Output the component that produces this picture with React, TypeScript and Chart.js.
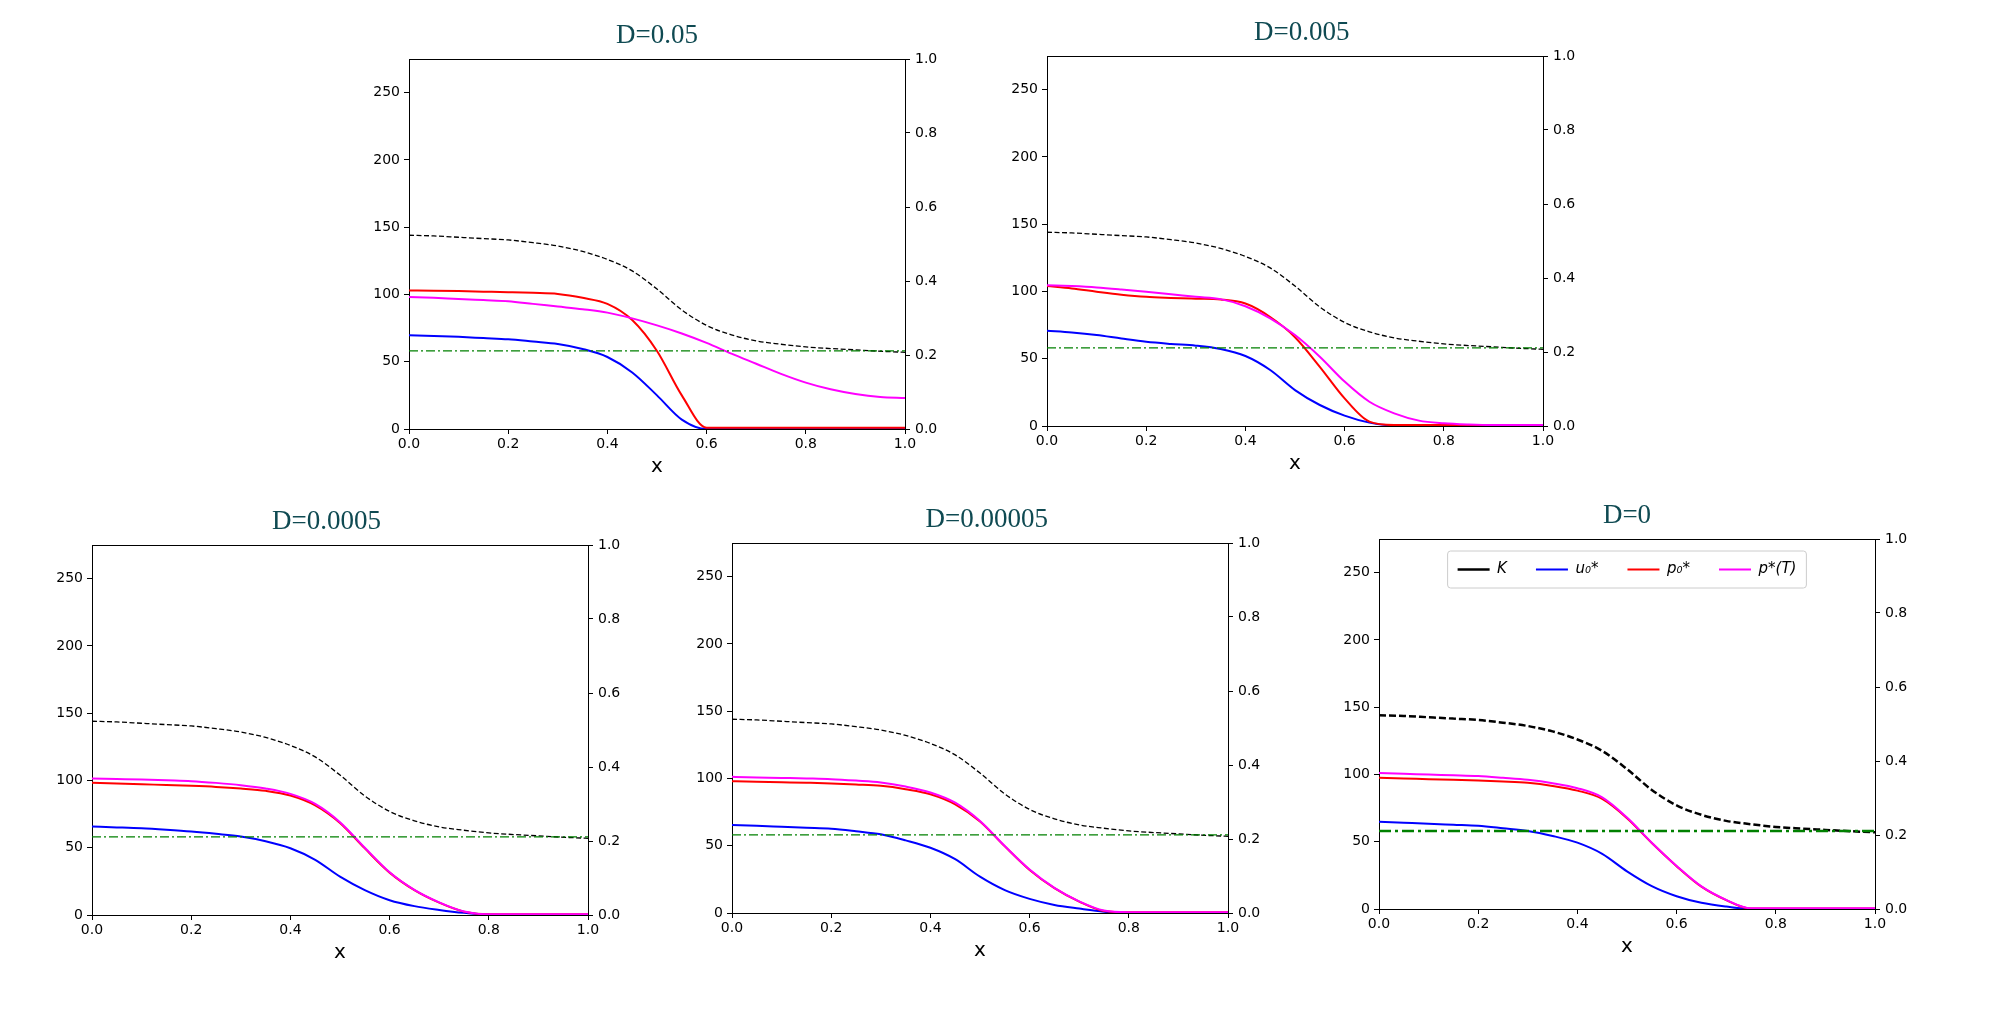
import { useEffect, useRef } from "react";
import { Chart, registerables, type Plugin } from "chart.js";

Chart.register(...registerables);

// sample positions along x (shared by every curve)
const X = [0, 0.05, 0.1, 0.15, 0.2, 0.25, 0.3, 0.35, 0.4, 0.45, 0.5, 0.55, 0.6, 0.65, 0.7, 0.75, 0.8, 0.85, 0.9, 0.95, 1];

// K is the same in every panel
const K = [144, 143.5, 142.5, 141.5, 140.5, 138.5, 136, 132, 126, 117.5, 104, 88.5, 77, 70, 65.5, 63, 61, 59.8, 58.8, 57.8, 57];

const GREEN_LEVEL = 58;

const U1 = [69.7, 69.2, 68.5, 67.6, 66.7, 65, 63.2, 59.5, 53.5, 42, 25, 7, 0, 0, 0, 0, 0, 0, 0, 0, 0];
const P01 = [103, 102.8, 102.5, 102.1, 101.7, 101.2, 100.4, 97.5, 93, 81, 58, 25, 1, 1, 1, 1, 1, 1, 1, 1, 1];
const PT1 = [98.2, 97.5, 96.6, 95.8, 95, 93, 91, 89, 86.5, 82.2, 77, 71, 64, 56, 48.5, 41, 34.5, 29.5, 26, 23.8, 23];

const U2 = [70.8, 69.5, 67.6, 65, 62.6, 61, 59.7, 57.2, 52, 41.6, 26.7, 15.6, 7.7, 2.5, 0.3, 0, 0, 0, 0, 0, 0];
const P02 = [104, 102.2, 99.8, 97.6, 96, 95.2, 94.6, 94, 91, 81, 66, 44, 20.5, 3.2, 0.7, 0.7, 0.7, 0.7, 0.7, 0.7, 0.7];
const PT2 = [104.7, 104, 103, 101.5, 99.8, 98, 96, 94.3, 89, 80, 67.6, 51.5, 33, 18, 9.4, 4, 2, 1.1, 0.7, 0.7, 0.7];

const U3 = [65.7, 65.1, 64.4, 63.3, 62, 60.3, 58.3, 54.8, 49.6, 41, 28.5, 18.5, 11, 6.6, 3.8, 1.6, 0.2, 0, 0, 0, 0];
const P03 = [98.3, 97.8, 97.2, 96.6, 96, 95.2, 94, 92.3, 88.8, 81.5, 68.4, 49.5, 31.5, 18.5, 9.2, 2.5, 0.5, 0.5, 0.5, 0.5, 0.5];
const PT3 = [101.5, 101.1, 100.7, 100.1, 99.5, 98.2, 96.5, 94, 90, 82.6, 69, 50, 31.8, 18.7, 9.4, 2.6, 0.5, 0.5, 0.5, 0.5, 0.5];

const U4 = [65.4, 64.8, 64.1, 63.4, 62.7, 60.8, 58.5, 54, 48.5, 40, 27, 17, 10.5, 6, 3.3, 1, 0, 0, 0, 0, 0];
const P04 = [98, 97.6, 97.2, 96.8, 96.3, 95.5, 94.5, 92, 88.3, 80.8, 68, 49.5, 32, 18.5, 8.5, 1.5, 0.5, 0.5, 0.5, 0.5, 0.5];
const PT4 = [101.2, 100.8, 100.4, 100, 99.5, 98.4, 97, 94, 89.6, 82, 68.4, 49.8, 32.3, 18.7, 8.7, 1.8, 0.5, 0.5, 0.5, 0.5, 0.5];

const U5 = [64.8, 64.1, 63.4, 62.6, 61.8, 60, 58, 54.3, 49.3, 41, 28, 17, 9.5, 4.6, 1.8, 0, 0, 0, 0, 0, 0];
const P05 = [97.5, 97, 96.5, 96, 95.5, 94.8, 93.8, 91.5, 88, 81.8, 67.5, 49, 31.8, 16.6, 6.6, 0.3, 0.3, 0.3, 0.3, 0.3, 0.3];
const PT5 = [101, 100.5, 99.9, 99.4, 98.8, 97.5, 96, 93.5, 89.8, 83, 68, 49.3, 32, 16.8, 6.8, 0.5, 0.5, 0.5, 0.5, 0.5, 0.5];

const LEFT_TICKS = [0, 50, 100, 150, 200, 250];
const RIGHT_TICKS = [0, 0.2, 0.4, 0.6, 0.8, 1.0];
const X_TICKS = [0, 0.2, 0.4, 0.6, 0.8, 1.0];

type PanelCfg = {
  title: string;
  left: number; // chart area left, px
  top: number; // chart area top, px
  u: number[];
  p0: number[];
  pT: number[];
  heavy: boolean;
  legend: boolean;
};

// titles are not quite centred in the original; padding spaces nudge them
const PANELS: PanelCfg[] = [
  { title: "D=0.05", left: 409, top: 59, u: U1, p0: P01, pT: PT1, heavy: false, legend: false },
  { title: "  D=0.005", left: 1047, top: 56, u: U2, p0: P02, pT: PT2, heavy: false, legend: false },
  { title: "D=0.0005    ", left: 92, top: 545, u: U3, p0: P03, pT: PT3, heavy: false, legend: false },
  { title: "  D=0.00005", left: 732, top: 543, u: U4, p0: P04, pT: PT4, heavy: false, legend: false },
  { title: "D=0", left: 1379, top: 539, u: U5, p0: P05, pT: PT5, heavy: true, legend: true },
];

const AREA_W = 496;
const AREA_H = 370;
const AXIS_W = 44;
const TITLE_H = 37;
const XAXIS_H = 52;
const LEGEND_LIFT = 6;

const pts = (ys: number[]) => X.map((x, i) => ({ x, y: ys[i] }));

// legend sits inside the plot as one row, with a light frame round it
const legendInside: Plugin<"line"> = {
  id: "legendInside",
  afterInit(chart) {
    const lg: any = chart.legend;
    if (lg) lg.isHorizontal = () => true;
  },
  afterLayout(chart) {
    const lg: any = chart.legend;
    if (!lg) return;
    lg.left = chart.chartArea.left;
    lg.right = chart.chartArea.right;
    lg.top -= LEGEND_LIFT;
    lg.bottom -= LEGEND_LIFT;
  },
  afterDraw(chart) {
    const lg: any = chart.legend;
    if (!lg || !lg.options.display || !lg.legendHitBoxes?.length) return;
    let l = Infinity, r = -Infinity, t = Infinity, b = -Infinity;
    for (const h of lg.legendHitBoxes) {
      l = Math.min(l, h.left);
      r = Math.max(r, h.left + h.width);
      t = Math.min(t, h.top);
      b = Math.max(b, h.top + h.height);
    }
    const ctx = chart.ctx;
    ctx.save();
    ctx.strokeStyle = "#cccccc";
    ctx.lineWidth = 1;
    ctx.beginPath();
    ctx.roundRect(l - 10, t - 11, r - l + 20, b - t + 22, 3);
    ctx.stroke();
    ctx.restore();
  },
};

const tickFont = { family: "DejaVu Sans", size: 14 };

function Panel({ cfg }: { cfg: PanelCfg }) {
  const canvasRef = useRef<HTMLCanvasElement | null>(null);

  useEffect(() => {
    const canvas = canvasRef.current;
    if (!canvas) return;

    const kWidth = cfg.heavy ? 2.5 : 1.3;
    const kDash = cfg.heavy ? [7, 3] : [5, 2.5];
    const gWidth = cfg.heavy ? 2.5 : 1.3;
    const gDash = cfg.heavy ? [12, 4, 3, 4] : [9, 3, 2, 3];

    const common = {
      pointRadius: 0,
      pointHoverRadius: 0,
      fill: false,
      cubicInterpolationMode: "monotone" as const,
    };

    const chart = new Chart(canvas, {
      type: "line",
      data: {
        datasets: [
          { ...common, label: "K", data: pts(K), borderColor: "#000000", backgroundColor: "#000000", borderWidth: kWidth, borderDash: kDash, order: 4 },
          { ...common, label: "u₀*", data: pts(cfg.u), borderColor: "#0000ff", backgroundColor: "#0000ff", borderWidth: 2, order: 3 },
          { ...common, label: "p₀*", data: pts(cfg.p0), borderColor: "#ff0000", backgroundColor: "#ff0000", borderWidth: 2, order: 2 },
          { ...common, label: "p*(T)", data: pts(cfg.pT), borderColor: "#ff00ff", backgroundColor: "#ff00ff", borderWidth: 2, order: 1 },
          {
            ...common,
            label: "",
            data: [
              { x: X[0], y: GREEN_LEVEL },
              { x: X[X.length - 1], y: GREEN_LEVEL },
            ],
            borderColor: "#008000",
            backgroundColor: "#008000",
            borderWidth: gWidth,
            borderDash: gDash,
            order: 0,
          },
        ],
      },
      options: {
        responsive: false,
        animation: false,
        layout: { padding: 0 },
        plugins: {
          tooltip: { enabled: false },
          title: {
            display: true,
            text: cfg.title,
            color: "#0f4a52",
            font: { family: "Liberation Serif", size: 27, weight: "normal", lineHeight: 1 },
            padding: { top: 0, bottom: 10 },
          },
          legend: {
            display: cfg.legend,
            position: "chartArea",
            align: "center",
            labels: {
              usePointStyle: true,
              pointStyle: "line",
              pointStyleWidth: 32,
              padding: 29,
              color: "#000",
              font: { family: "DejaVu Sans", size: 15, style: "italic" },
              filter: (item) => (item.datasetIndex ?? 0) < 4,
              sort: (a, b) => (a.datasetIndex ?? 0) - (b.datasetIndex ?? 0),
            },
          },
        },
        scales: {
          x: {
            type: "linear",
            position: "bottom",
            min: 0,
            max: 1,
            afterFit: (s) => {
              s.height = XAXIS_H;
            },
            afterBuildTicks: (s) => {
              s.ticks = X_TICKS.map((value) => ({ value }));
            },
            ticks: { padding: 2, color: "#000", font: tickFont, callback: (v) => Number(v).toFixed(1) },
            grid: { drawOnChartArea: false, color: "#000", tickLength: 5 },
            border: { display: true, color: "#000", width: 1 },
            title: {
              display: true,
              text: "x",
              color: "#000",
              font: { family: "DejaVu Sans", size: 20 },
              padding: { top: 0, bottom: 2 },
            },
          },
          x2: {
            type: "linear",
            position: "top",
            min: 0,
            max: 1,
            afterFit: (s) => {
              s.height = 0;
            },
            ticks: { display: false },
            grid: { drawOnChartArea: false, drawTicks: false },
            border: { display: true, color: "#000", width: 1 },
          },
          y: {
            type: "linear",
            position: "left",
            min: 0,
            max: 275,
            afterFit: (s) => {
              s.width = AXIS_W;
            },
            afterBuildTicks: (s) => {
              s.ticks = LEFT_TICKS.map((value) => ({ value }));
            },
            ticks: { padding: 4, color: "#000", font: tickFont },
            grid: { drawOnChartArea: false, color: "#000", tickLength: 5 },
            border: { display: true, color: "#000", width: 1 },
          },
          y2: {
            type: "linear",
            position: "right",
            min: 0,
            max: 1,
            afterFit: (s) => {
              s.width = AXIS_W;
            },
            afterBuildTicks: (s) => {
              s.ticks = RIGHT_TICKS.map((value) => ({ value }));
            },
            ticks: { padding: 5, color: "#000", font: tickFont, callback: (v) => Number(v).toFixed(1) },
            grid: { drawOnChartArea: false, color: "#000", tickLength: 5 },
            border: { display: true, color: "#000", width: 1 },
          },
        },
      },
      plugins: [legendInside],
    });

    return () => {
      chart.destroy();
    };
  }, [cfg]);

  const w = AREA_W + 2 * AXIS_W;
  const h = AREA_H + TITLE_H + XAXIS_H;

  return (
    <canvas
      ref={canvasRef}
      width={w}
      height={h}
      style={{
        position: "absolute",
        left: cfg.left - AXIS_W,
        top: cfg.top - TITLE_H,
        width: w,
        height: h,
      }}
    />
  );
}

export default function App() {
  return (
    <div
      style={{
        position: "absolute",
        left: 0,
        top: 0,
        width: 2000,
        height: 1030,
        background: "#ffffff",
        overflow: "hidden",
      }}
    >
      {PANELS.map((p) => (
        <Panel key={p.title} cfg={p} />
      ))}
    </div>
  );
}
